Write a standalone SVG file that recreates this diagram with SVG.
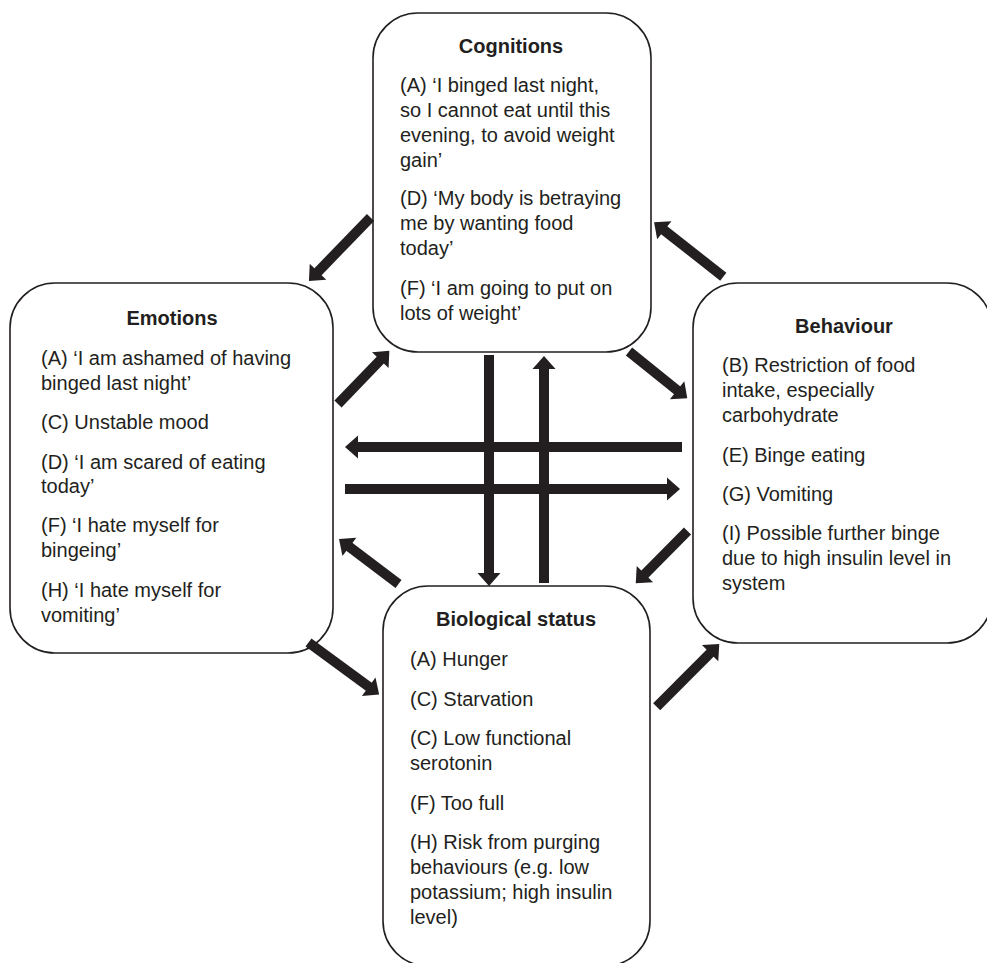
<svg xmlns="http://www.w3.org/2000/svg" width="987" height="963" viewBox="0 0 987 963">
<style>
.box{fill:#ffffff;stroke:#231f20;stroke-width:1.6}
.t{font-family:"Liberation Sans",Arial,sans-serif;font-size:20px;fill:#231f20}
.h{font-weight:bold;text-anchor:middle}
.arr{stroke:#231f20;stroke-width:10;fill:none;marker-end:url(#ah)}
</style>
<defs>
<marker id="ah" markerUnits="userSpaceOnUse" markerWidth="16" markerHeight="26" viewBox="-1 -13 16 26" refX="0" refY="0" orient="auto" overflow="visible">
<path d="M-1,-11.5 L12,0 L-1,11.5 z" fill="#231f20"/>
</marker>
</defs>
<rect width="987" height="963" fill="#ffffff"/>

<g id="cognitions">
<rect class="box" x="373" y="13" width="278" height="339" rx="45" ry="45"/>
<text class="t h" x="511" y="52.7">Cognitions</text>
<text class="t" x="400">
<tspan x="400" y="91.7">(A) ‘I binged last night,</tspan>
<tspan x="400" y="116.7">so I cannot eat until this</tspan>
<tspan x="400" y="141.7">evening, to avoid weight</tspan>
<tspan x="400" y="166.7">gain’</tspan>
<tspan x="400" y="205">(D) ‘My body is betraying</tspan>
<tspan x="400" y="230">me by wanting food</tspan>
<tspan x="400" y="255">today’</tspan>
<tspan x="400" y="295">(F) ‘I am going to put on</tspan>
<tspan x="400" y="320">lots of weight’</tspan>
</text>
</g>

<g id="emotions">
<rect class="box" x="10" y="283" width="323" height="370" rx="45" ry="45"/>
<text class="t h" x="172" y="325">Emotions</text>
<text class="t" x="41">
<tspan x="41" y="365">(A) ‘I am ashamed of having</tspan>
<tspan x="41" y="389.5">binged last night’</tspan>
<tspan x="41" y="428.5">(C) Unstable mood</tspan>
<tspan x="41" y="468.5">(D) ‘I am scared of eating</tspan>
<tspan x="41" y="493">today’</tspan>
<tspan x="41" y="532">(F) ‘I hate myself for</tspan>
<tspan x="41" y="556.5">bingeing’</tspan>
<tspan x="41" y="596.5">(H) ‘I hate myself for</tspan>
<tspan x="41" y="621.5">vomiting’</tspan>
</text>
</g>

<g id="behaviour">
<rect class="box" x="693" y="283" width="299" height="360" rx="45" ry="45"/>
<text class="t h" x="844" y="333">Behaviour</text>
<text class="t" x="722">
<tspan x="722" y="372">(B) Restriction of food</tspan>
<tspan x="722" y="397">intake, especially</tspan>
<tspan x="722" y="422">carbohydrate</tspan>
<tspan x="722" y="462">(E) Binge eating</tspan>
<tspan x="722" y="501">(G) Vomiting</tspan>
<tspan x="722" y="539.5">(I) Possible further binge</tspan>
<tspan x="722" y="564.5">due to high insulin level in</tspan>
<tspan x="722" y="589.5">system</tspan>
</text>
</g>

<g id="biological">
<rect class="box" x="383" y="586" width="267" height="380" rx="45" ry="45"/>
<text class="t h" x="516" y="626">Biological status</text>
<text class="t" x="410">
<tspan x="410" y="666">(A) Hunger</tspan>
<tspan x="410" y="706">(C) Starvation</tspan>
<tspan x="410" y="745">(C) Low functional</tspan>
<tspan x="410" y="770">serotonin</tspan>
<tspan x="410" y="809.5">(F) Too full</tspan>
<tspan x="410" y="848.5">(H) Risk from purging</tspan>
<tspan x="410" y="873.5">behaviours (e.g. low</tspan>
<tspan x="410" y="898.5">potassium; high insulin</tspan>
<tspan x="410" y="923.5">level)</tspan>
</text>
</g>

<g id="connectors">
<line class="arr" x1="489" y1="355" x2="489" y2="574"/>
<line class="arr" x1="544" y1="583" x2="544" y2="368"/>
<line class="arr" x1="682" y1="447" x2="357" y2="447"/>
<line class="arr" x1="345" y1="489" x2="668" y2="489"/>
<line class="arr" x1="338" y1="404" x2="381" y2="359.4"/>
<line class="arr" x1="629" y1="351.5" x2="677.9" y2="390.8"/>
<line class="arr" x1="687.5" y1="531" x2="644.2" y2="574.8"/>
<line class="arr" x1="398.5" y1="584" x2="348.6" y2="546.2"/>
<line class="arr" x1="370.5" y1="217.5" x2="317.3" y2="272.4"/>
<line class="arr" x1="723.3" y1="276.7" x2="663.5" y2="229.7"/>
<line class="arr" x1="308.5" y1="642.5" x2="369.5" y2="687.3"/>
<line class="arr" x1="656.7" y1="706.7" x2="710.8" y2="652.5"/>
</g>
</svg>
